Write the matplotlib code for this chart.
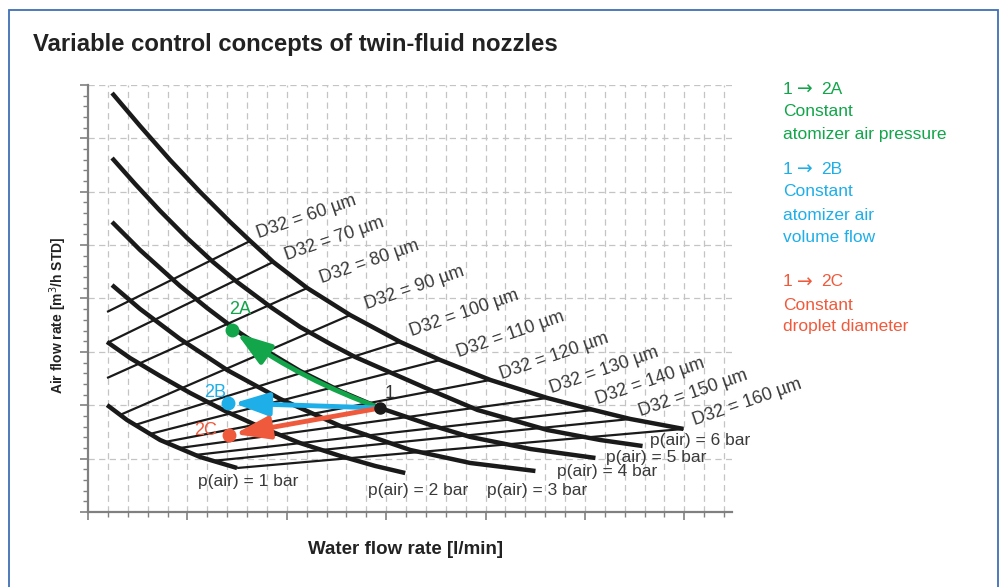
import matplotlib
matplotlib.use("Agg")
import matplotlib.pyplot as plt
import numpy as np
from matplotlib.patches import Rectangle, FancyArrowPatch

plt.rcParams['font.family'] = ['Liberation Sans', 'DejaVu Sans']

# ---- data (x: water flow in minor-grid units, y: air flow in minor-tick units) ----
p1_x = [0.96, 1.96, 3.63, 5.64, 7.50]
p1_y = [10.02, 8.62, 6.74, 5.15, 4.12]
p2_x = [0.96, 2.11, 3.63, 5.14, 6.90, 8.66, 10.67, 12.69, 14.45, 15.96]
p2_y = [15.93, 14.43, 12.74, 11.15, 9.46, 7.96, 6.46, 5.25, 4.31, 3.65]
p3_x = [1.21, 2.62, 4.63, 7.00, 9.67, 12.69, 16.21, 19.23, 22.51]
p3_y = [21.26, 19.02, 16.21, 13.30, 10.59, 8.06, 5.81, 4.59, 3.84]
p4_x = [1.21, 2.62, 4.63, 5.99, 7.65, 9.16, 10.67, 12.69, 14.70, 17.22, 19.23, 22.26, 25.53]
p4_y = [27.17, 24.54, 21.17, 19.11, 16.77, 14.89, 13.21, 11.33, 9.74, 8.15, 7.03, 5.90, 5.06]
p5_x = [1.21, 2.37, 3.63, 4.98, 6.29, 7.50, 9.26, 10.67, 12.19, 13.44, 14.70, 17.22, 19.59, 23.11, 25.78, 27.90]
p5_y = [33.16, 30.73, 28.20, 25.67, 23.42, 21.55, 19.11, 17.33, 15.74, 14.52, 13.49, 11.43, 9.56, 7.68, 6.74, 6.18]
p6_x = [1.21, 2.62, 4.13, 5.64, 7.15, 8.16, 9.32, 11.03, 13.19, 15.71, 17.72, 20.24, 23.11, 25.43, 27.29, 29.96]
p6_y = [39.25, 36.16, 32.97, 29.98, 27.17, 25.39, 23.42, 20.98, 18.45, 15.93, 14.24, 12.37, 10.68, 9.56, 8.71, 7.78]
pressure_labels = ["p(air) = 1 bar", "p(air) = 2 bar", "p(air) = 3 bar",
                   "p(air) = 4 bar", "p(air) = 5 bar", "p(air) = 6 bar"]

d32_values = [60, 70, 80, 90, 100, 110, 120, 130, 140, 150, 160]
d32_start_x = [0.96, 0.96, 0.96, 1.61, 2.37, 3.12, 3.88, 4.63, 5.39, 6.24, 7.50]
d32_start_y = [18.74, 15.83, 12.55, 9.09, 8.15, 7.31, 6.56, 6.00, 5.34, 4.78, 4.12]
d32_end_x = [8.16, 9.32, 11.03, 13.19, 15.71, 17.72, 20.24, 23.11, 25.43, 27.29, 29.96]
d32_end_y = [25.39, 23.42, 20.98, 18.45, 15.93, 14.24, 12.37, 10.68, 9.56, 8.71, 7.78]

point_names = ["1", "2A", "2B", "2C"]
point_x = [14.70, 7.25, 7.05, 7.10]
point_y = [9.74, 17.05, 10.21, 7.21]

legend_heads = [("1", "2A"), ("1", "2B"), ("1", "2C")]
legend_lines = [["Constant", "atomizer air pressure"],
                ["Constant", "atomizer air", "volume flow"],
                ["Constant", "droplet diameter"]]

# ---- style ----
GREEN = "#12a54a"
BLUE = "#1eaee8"
RED = "#f05a3c"
CURVE = "#1a1a1a"
GRIDC = "#c4c4c4"
AXC = "#808080"
TXT = "#3a3a3a"

fig = plt.figure(figsize=(10, 5.87), dpi=100)
ax = fig.add_axes([0.088, 0.1278, 0.644, 0.7274])
ax.set_xlim(0, 32.4)
ax.set_ylim(0, 40)

# grid
for gx in range(1, 33):
    ax.plot([gx, gx], [0, 40], color=GRIDC, lw=0.9, dashes=(5, 3.5), zorder=1)
for gy in range(5, 41, 5):
    ax.plot([0, 32.4], [gy, gy], color=GRIDC, lw=0.9, dashes=(5, 3.5), zorder=1)

for s in ["top", "right"]:
    ax.spines[s].set_visible(False)
for s in ["left", "bottom"]:
    ax.spines[s].set_color(AXC)
    ax.spines[s].set_linewidth(1.6)
ax.set_xticks(np.arange(0, 32.5, 5))
ax.set_xticks(np.arange(0, 32.5, 1), minor=True)
ax.set_yticks(np.arange(0, 40.5, 5))
ax.set_yticks(np.arange(0, 40.5, 1), minor=True)
ax.tick_params(which="major", length=5.5, width=1.2, color=AXC, labelbottom=False, labelleft=False)
ax.tick_params(which="minor", length=3.5, width=1.0, color=AXC)

# D32 lines
for sx, sy, ex, ey in zip(d32_start_x, d32_start_y, d32_end_x, d32_end_y):
    ax.plot([sx, ex], [sy, ey], color=CURVE, lw=1.6, zorder=3, solid_capstyle="butt")

# pressure curves
curves = [(p1_x, p1_y), (p2_x, p2_y), (p3_x, p3_y), (p4_x, p4_y), (p5_x, p5_y), (p6_x, p6_y)]
for xs, ys in curves:
    ax.plot(xs, ys, color=CURVE, lw=3.2, zorder=4, solid_capstyle="butt", solid_joinstyle="round")

# pressure labels
plab_pos = [(8.06, 2.90), (16.62, 1.97), (22.61, 1.97), (26.13, 3.75), (28.60, 5.15), (30.81, 6.74)]
for lab, (lx, ly) in zip(pressure_labels, plab_pos):
    ax.text(lx, ly, lab, fontsize=12.5, color=TXT, ha="center", va="center", zorder=6)

# D32 labels
dlab_pos = [(10.98, 27.63), (12.39, 25.57), (14.15, 23.42), (16.41, 20.98), (18.93, 18.64),
            (21.25, 16.58), (23.47, 14.61), (25.98, 13.30), (28.30, 12.27), (30.46, 11.15),
            (33.18, 10.30)]
for v, (lx, ly) in zip(d32_values, dlab_pos):
    ax.text(lx, ly, f"D32 = {v} \u00b5m", fontsize=13, color=TXT, ha="center", va="center",
            rotation=19, rotation_mode="anchor", zorder=6, clip_on=False)

# arrows (1 -> 2A bends along the constant-pressure curve)
colors = [GREEN, BLUE, RED]
rads = [-0.07, 0.0, 0.0]
astyle = "-|>,head_length=21,head_width=7"
for i, (c, r) in enumerate(zip(colors, rads), start=1):
    arr = FancyArrowPatch((point_x[0], point_y[0]), (point_x[i], point_y[i]),
                          connectionstyle=f"arc3,rad={r}", arrowstyle=astyle,
                          color=c, lw=3.5, shrinkA=0, shrinkB=4, zorder=7,
                          mutation_scale=1)
    ax.add_patch(arr)

pcolors = ["#1a1a1a", GREEN, BLUE, RED]
psizes = [8, 9, 9, 9]
for nm, x, y, c, s in zip(point_names, point_x, point_y, pcolors, psizes):
    ax.plot(x, y, "o", color=c, ms=s, zorder=8)
plab_off = [(0.5, 1.4), (0.4, 1.9), (-0.66, 0.94), (-1.2, 0.47)]
for nm, x, y, c, (dx, dy) in zip(point_names, point_x, point_y, ["#333333", GREEN, BLUE, RED], plab_off):
    ax.text(x + dx, y + dy, nm, fontsize=13, color=c, ha="center", va="center", zorder=8)

# axis labels
fig.text(0.4055, 1 - 550 / 587, "Water flow rate [l/min]", fontsize=13.5, fontweight="bold",
         ha="center", va="center", color="#222222")
fig.text(0.058, 1 - 315 / 587, "Air flow rate [m$^3$/h STD]", fontsize=10, fontweight="bold",
         ha="center", va="center", rotation=90, color="#222222")

# title
fig.text(0.033, 1 - 45 / 587, "Variable control concepts of twin-fluid nozzles", fontsize=17.2,
         fontweight="bold", ha="left", va="center", color="#222222")

# legend text on right
head_y = [89, 169, 282]
body_y = [[112, 134], [192, 215, 237], [305, 327]]
for (a, b), lines, hy, yl, c in zip(legend_heads, legend_lines, head_y, body_y, colors):
    fig.text(0.783, 1 - hy / 587, a, fontsize=12.5, color=c, ha="left", va="center")
    fig.text(0.7965, 1 - hy / 587, "\u2192", fontsize=13.5, color=c, ha="left", va="center",
             family="DejaVu Sans")
    fig.text(0.821, 1 - hy / 587, b, fontsize=12.5, color=c, ha="left", va="center")
    for t, yy in zip(lines, yl):
        fig.text(0.783, 1 - yy / 587, t, fontsize=12.5, color=c, ha="left", va="center")

# frame
fig.add_artist(Rectangle((0.009, -0.1), 0.989, 1.083, transform=fig.transFigure,
                         fill=False, edgecolor="#3f6fb5", lw=1.3))

fig.savefig("out.png", dpi=100)
